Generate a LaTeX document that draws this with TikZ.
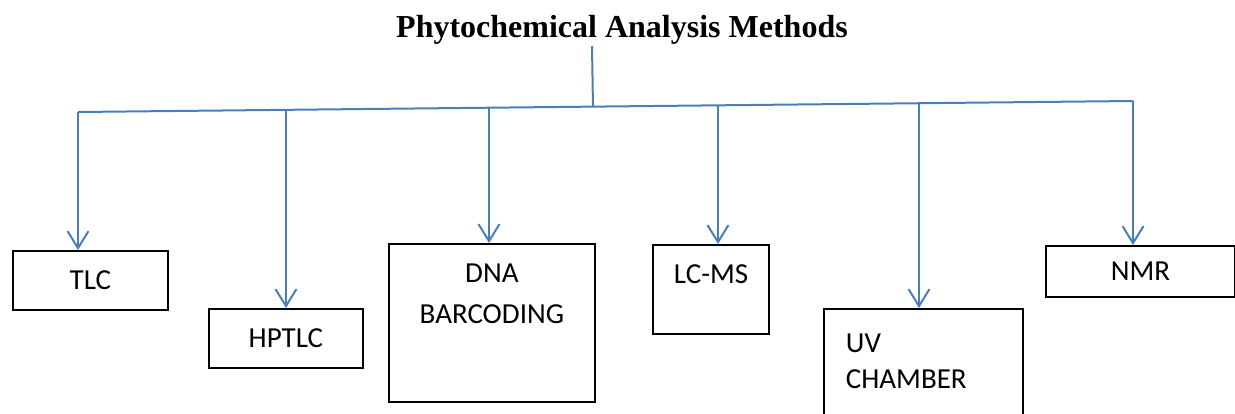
\documentclass[tikz,border=0pt]{standalone}
\usepackage{fontspec}
\setmainfont{Liberation Serif}
\newfontfamily\boxfont{Carlito}
\usetikzlibrary{arrows.meta,calc,positioning}
\definecolor{linkblue}{RGB}{74,126,187}
\tikzset{
	wire/.style={draw=linkblue, line width=2pt},
	link/.style={wire, -{Straight Barb[length=17pt,width=21pt]}},
	method/.style={draw, line width=1.8pt, inner sep=0pt, anchor=north west, font=\boxfont\fontsize{29}{41}\selectfont},
}

\begin{document}
\begin{tikzpicture}[x=1pt,y=-1pt]
			\useasboundingbox (0,0) rectangle (1235,413);
			\clip (0,0) rectangle (1235,413);
			\node[anchor=base, font=\bfseries\fontsize{32}{38}\selectfont] (title) at (622,37) {Phytochemical Analysis Methods};
			% boxes
			\node[method, minimum width=155pt, minimum height=59pt] (tlc) at (12,250) {TLC};
			\node[method, minimum width=154pt, minimum height=59pt] (hptlc) at (208,308) {HPTLC};
			\node[method] (dna) at (388,243) {\parbox[b][158pt][t]{206pt}{\centering\rule{0pt}{39pt}DNA\\BARCODING}};
			\node[method] (lcms) at (652,244) {\parbox[b][89pt][t]{116pt}{\hspace*{21pt}\rule{0pt}{39pt}LC-MS}};
			\node[method] (uv) at (823,308) {\parbox[b][125pt][t]{199pt}{\fontsize{29}{36}\selectfont\hspace*{22pt}\rule{0pt}{44pt}UV\\\hspace*{22pt}CHAMBER}};
			\node[method, minimum width=189pt, minimum height=51pt] (nmr) at (1045,245) {NMR};
			% tree
			\coordinate (top) at (592,46);
			\coordinate (busL) at (78,112);
			\coordinate (busR) at (1133,101);
			\coordinate (hub) at ($(busL)!{(593-78)/1055}!(busR)$);
			\draw[wire] (top) -- (hub);
			\draw[wire] (busL) -- (busR);
			\foreach \n/\x in {tlc/78, hptlc/286, dna/489, lcms/718, uv/919, nmr/1133}
			{
				\coordinate (b-\n) at ($(busL)!{(\x-78)/1055}!(busR)$);
				\draw[link] (b-\n) -- (b-\n |- \n.north);
			}
		\end{tikzpicture}
\end{document}
